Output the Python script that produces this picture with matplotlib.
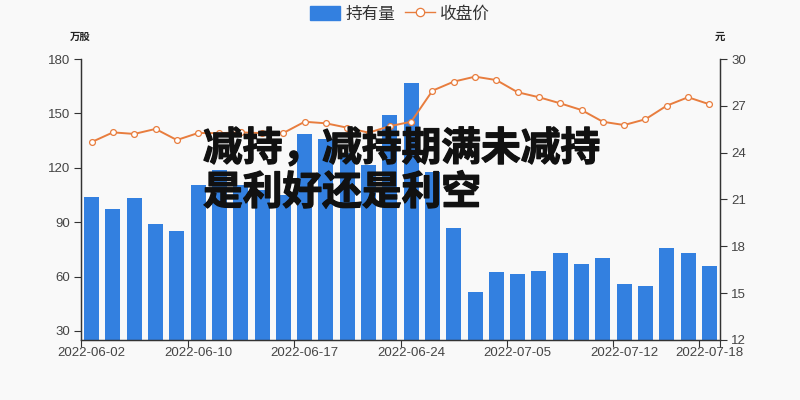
import matplotlib
matplotlib.use("Agg")
import matplotlib.pyplot as plt
from matplotlib.patches import Patch
from matplotlib.lines import Line2D
import matplotlib.patheffects as pe

plt.rcParams['font.family'] = ['Noto Sans CJK SC', 'DejaVu Sans']

# ---- data ----
dates = [
    "2022-06-02", "2022-06-06", "2022-06-07", "2022-06-08", "2022-06-09", "2022-06-10",
    "2022-06-13", "2022-06-14", "2022-06-15", "2022-06-16", "2022-06-17",
    "2022-06-20", "2022-06-21", "2022-06-22", "2022-06-23", "2022-06-24",
    "2022-06-27", "2022-06-28", "2022-06-29", "2022-06-30",
    "2022-07-05", "2022-07-06", "2022-07-07", "2022-07-08", "2022-07-11", "2022-07-12",
    "2022-07-13", "2022-07-14", "2022-07-15", "2022-07-18",
]
holdings = [104, 97, 103.5, 89, 85, 110.5, 119, 110.5, 108, 105,
            138.5, 135.7, 128, 121.5, 149, 167, 117.7, 87, 51.3, 62.4,
            61.3, 63.3, 72.8, 66.8, 70.4, 55.7, 55, 75.9, 73.2, 65.8]
close = [24.68, 25.3, 25.2, 25.52, 24.81, 25.26, 25.25, 25.3, 25.25, 25.26,
         25.98, 25.88, 25.6, 25.28, 25.7, 25.98, 27.97, 28.55, 28.87, 28.65,
         27.87, 27.55, 27.16, 26.73, 25.98, 25.77, 26.14, 27.01, 27.55, 27.1]
label_idx = [0, 5, 10, 15, 20, 25, 29]
left_ticks = [30, 60, 90, 120, 150, 180]
right_ticks = [12, 15, 18, 21, 24, 27, 30]

BG = "#f9f9f9"
BAR = "#3380e0"
LINE = "#e87d3e"
AXC = "#333333"
TXT = "#444444"

fig = plt.figure(figsize=(8, 4), dpi=100, facecolor=BG)
ax = fig.add_axes([81 / 800, 60 / 400, 639 / 800, 281 / 400])
ax.set_facecolor(BG)
ax2 = ax.twinx()

x = list(range(len(dates)))
ax.bar(x, holdings, width=0.7, color=BAR, zorder=2)
ax.set_xlim(-0.5, len(dates) - 0.5)
ax.set_ylim(25, 180)
ax.set_yticks(left_ticks)

ax2.plot(x, close, color=LINE, lw=1.4, marker="o", ms=4.2,
         mfc="white", mec=LINE, mew=0.9, zorder=3)
ax2.set_ylim(12, 30)
ax2.set_yticks(right_ticks)

# x ticks: labels at bar centres, tick marks at band edges
ax.set_xticks(label_idx)
ax.set_xticklabels([dates[i] for i in label_idx], family="Liberation Sans",
                   fontsize=9.5, color=TXT)
ax.tick_params(axis="x", which="major", length=0, pad=5)
ax.set_xticks([i - 0.5 for i in label_idx] + [len(dates) - 0.5], minor=True)
ax.tick_params(axis="x", which="minor", length=5, color=AXC, width=0.8)

for a in (ax, ax2):
    a.spines["top"].set_visible(False)
    for s in ("left", "right", "bottom"):
        a.spines[s].set_color(AXC)
        a.spines[s].set_linewidth(0.9)
ax.tick_params(axis="y", length=5, color=AXC, width=0.8, pad=3)
ax2.tick_params(axis="y", length=5, color=AXC, width=0.8, pad=3)
for lab in ax.get_yticklabels() + ax2.get_yticklabels():
    lab.set_family("Liberation Sans")
    lab.set_fontsize(9.5)
    lab.set_color(TXT)

# axis unit labels
fig.text(80 / 800, 1 - 37 / 400, "万股", ha="center", va="center",
         fontsize=7.5, fontweight="bold", color="#222222")
fig.text(720 / 800, 1 - 37 / 400, "元", ha="center", va="center",
         fontsize=7.5, fontweight="bold", color="#222222")

# legend
handles = [Patch(facecolor=BAR, edgecolor=BAR),
           Line2D([0], [0], color=LINE, lw=1, marker="o", ms=6,
                  mfc="white", mec=LINE, mew=0.9)]
fig.legend(handles, ["持有量", "收盘价"], loc="center",
           bbox_to_anchor=(0.5, 1 - 14 / 400), ncol=2, frameon=False,
           fontsize=12, handlelength=1.8, handleheight=0.9,
           handletextpad=0.3, columnspacing=0.6, labelcolor="#333333")

# overlay headline
stroke = [pe.withStroke(linewidth=0.9, foreground="#111111")]
fig.text(203 / 800, 1 - 149 / 400, "减持，减持期满未减持", ha="left", va="center",
         fontsize=28.6, fontweight="bold", color="#111111", path_effects=stroke,
         zorder=10)
fig.text(203 / 800, 1 - 193 / 400, "是利好还是利空", ha="left", va="center",
         fontsize=28.6, fontweight="bold", color="#111111", path_effects=stroke,
         zorder=10)

fig.savefig("out.png", dpi=100, facecolor=BG)
